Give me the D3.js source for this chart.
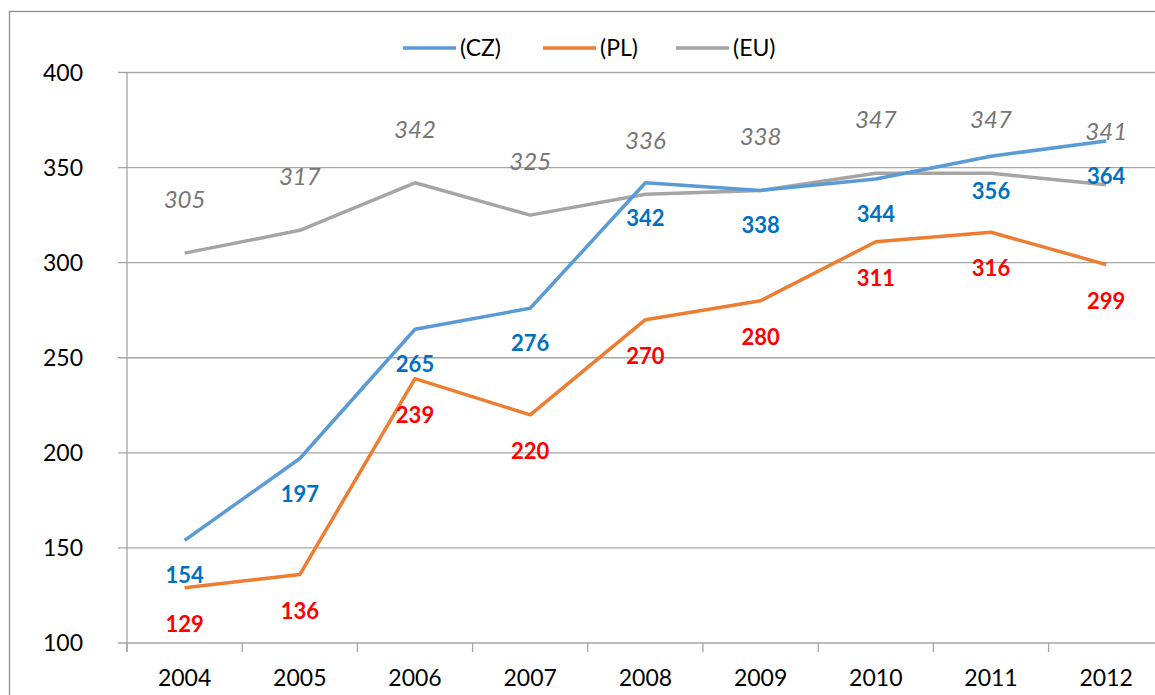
<!DOCTYPE html>
<meta charset="utf-8">
<style>
body { margin: 0; background: #fff; }
svg { font-family: Lato, "Open Sans", sans-serif; }
.grid line { stroke: #a6a6a6; stroke-width: 1.3px; }
.tick-lbl { font-size: 23px; fill: #000; }
</style>
<svg width="1155" height="695"></svg>
<script src="https://d3js.org/d3.v7.min.js"></script>
<script>
var years = ["2004","2005","2006","2007","2008","2009","2010","2011","2012"];
var cz = [154, 197, 265, 276, 342, 338, 344, 356, 364];
var pl = [129, 136, 239, 220, 270, 280, 311, 316, 299];
var eu = [305, 317, 342, 325, 336, 338, 347, 347, 341];
var yTicks = [100, 150, 200, 250, 300, 350, 400];

var svg = d3.select("svg");

// chart frame (runs off the right/bottom of the picture)
svg.append("rect")
    .attr("x", 9.5).attr("y", 11.5)
    .attr("width", 1200).attr("height", 750)
    .attr("fill", "none").attr("stroke", "#8c8c8c").attr("stroke-width", 1.3);

var left = 127, bw = 115.2;
var x = d3.scaleBand().domain(years).range([left, left + years.length * bw]);
var y = d3.scaleLinear().domain([100, 400]).range([643, 72.5]);
var cx = function(i) { return x(years[i]) + x.bandwidth() / 2; };

// horizontal gridlines + y ticks
var grid = svg.append("g").attr("class", "grid");
grid.selectAll("line.h").data(yTicks).enter().append("line")
    .attr("class", "h")
    .attr("x1", left - 9).attr("x2", 1200)
    .attr("y1", function(d) { return y(d); })
    .attr("y2", function(d) { return y(d); });
// y axis line
grid.append("line")
    .attr("x1", left).attr("x2", left)
    .attr("y1", y(400)).attr("y2", y(100) + 9);
// x ticks on category boundaries
grid.selectAll("line.xt").data(d3.range(years.length + 1)).enter().append("line")
    .attr("class", "xt")
    .attr("x1", function(i) { return left + i * x.step(); })
    .attr("x2", function(i) { return left + i * x.step(); })
    .attr("y1", y(100)).attr("y2", y(100) + 9);

svg.append("g").selectAll("text").data(yTicks).enter().append("text")
    .attr("class", "tick-lbl")
    .attr("x", 83).attr("y", function(d) { return y(d) + 8; })
    .attr("text-anchor", "end")
    .text(function(d) { return d; });

svg.append("g").selectAll("text").data(years).enter().append("text")
    .attr("class", "tick-lbl")
    .attr("x", function(d, i) { return cx(i); }).attr("y", 686)
    .attr("text-anchor", "middle")
    .text(function(d) { return d; });

var series = [
  { name: "(CZ)", values: cz, color: "#5b9bd5", lblColor: "#0070c0", dy: 43, size: 22, weight: "bold", style: "normal" },
  { name: "(PL)", values: pl, color: "#ed7d31", lblColor: "#ff0000", dy: 44, size: 22, weight: "bold", style: "normal" },
  { name: "(EU)", values: eu, color: "#a5a5a5", lblColor: "#767676", dy: -45, size: 24, weight: "normal", style: "italic" }
];

var line = d3.line()
    .x(function(d, i) { return cx(i); })
    .y(function(d) { return y(d); });

// draw EU first so CZ/PL sit on top
[series[2], series[0], series[1]].forEach(function(s) {
  svg.append("path")
      .datum(s.values)
      .attr("fill", "none")
      .attr("stroke", s.color)
      .attr("stroke-width", 3.5)
      .attr("stroke-linejoin", "round")
      .attr("d", line);
});

series.forEach(function(s) {
  svg.append("g").selectAll("text").data(s.values).enter().append("text")
      .attr("x", function(d, i) { return cx(i); })
      .attr("y", function(d) { return y(d) + s.dy; })
      .attr("text-anchor", "middle")
      .attr("fill", s.lblColor)
      .attr("font-size", s.size)
      .attr("font-weight", s.weight)
      .attr("font-style", s.style)
      .text(function(d) { return d; });
});

// legend
var legX = [403, 543, 676];
var leg = svg.append("g").selectAll("g").data(series).enter().append("g")
    .attr("transform", function(d, i) { return "translate(" + legX[i] + ",48)"; });
leg.append("line")
    .attr("x1", 0).attr("x2", 53).attr("y1", 0).attr("y2", 0)
    .attr("stroke", function(d) { return d.color; })
    .attr("stroke-width", 3.5);
leg.append("text")
    .attr("class", "tick-lbl")
    .attr("x", 57).attr("y", 8)
    .text(function(d) { return d.name; });
</script>
